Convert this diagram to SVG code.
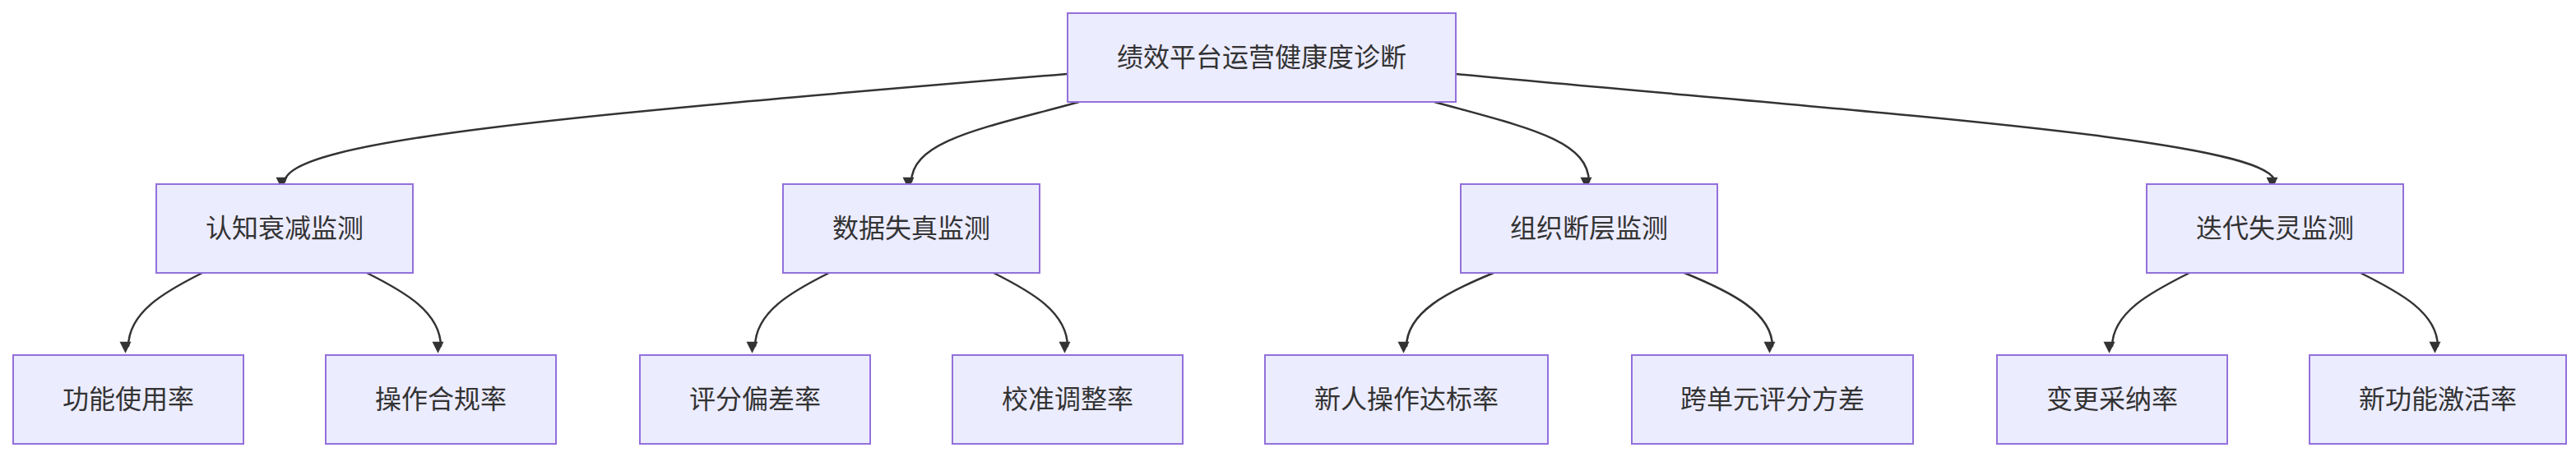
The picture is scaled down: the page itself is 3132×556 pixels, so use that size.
<svg xmlns="http://www.w3.org/2000/svg" width="3132" height="556" viewBox="0 0 3132 556">
<style>
.n rect{fill:#ECECFF;stroke:#9370DB;stroke-width:2}
.n text{font-family:"Liberation Sans","Noto Sans CJK SC",sans-serif;font-size:32px;fill:#333;text-anchor:middle;dominant-baseline:central}
.e path{fill:none;stroke:#333;stroke-width:2.5;marker-end:url(#a)}
</style>
<defs><marker id="a" viewBox="0 0 10 10" refX="9" refY="5" markerWidth="7" markerHeight="7" markerUnits="userSpaceOnUse" orient="auto" style="overflow:visible"><path d="M0,0L10,5L0,10z" fill="#333" transform="scale(2)" /></marker></defs>
<rect width="3132" height="556" fill="#fff"/>
<g class="e">
<path d="M1297,90 C700,140 346,170 346,222"/>
<path d="M1312,124 C1200,155 1108,170 1108,222"/>
<path d="M1744,124 C1856,155 1932,170 1932,222"/>
<path d="M1770,90 C2300,140 2766,170 2766,222"/>
<path d="M246,332 C200,355 156,380 156,422"/>
<path d="M446,332 C492,355 536,380 536,422"/>
<path d="M1008,332 C962,355 918,380 918,422"/>
<path d="M1208,332 C1254,355 1298,380 1298,422"/>
<path d="M1816,332 C1760,355 1710,380 1710,422"/>
<path d="M2048,332 C2104,355 2155,380 2155,422"/>
<path d="M2662,332 C2616,355 2568,380 2568,422"/>
<path d="M2870,332 C2916,355 2964,380 2964,422"/>
</g>
<g id="root" class="n"><rect x="1298" y="16" width="472" height="108"/><text x="1534" y="70">绩效平台运营健康度诊断</text></g>
<g id="a1" class="n"><rect x="190" y="224" width="312" height="108"/><text x="346" y="278">认知衰减监测</text></g>
<g id="a2" class="n"><rect x="952" y="224" width="312" height="108"/><text x="1108" y="278">数据失真监测</text></g>
<g id="a3" class="n"><rect x="1776" y="224" width="312" height="108"/><text x="1932" y="278">组织断层监测</text></g>
<g id="a4" class="n"><rect x="2610" y="224" width="312" height="108"/><text x="2766" y="278">迭代失灵监测</text></g>
<g id="b1" class="n"><rect x="16" y="432" width="280" height="108"/><text x="156" y="486">功能使用率</text></g>
<g id="b2" class="n"><rect x="396" y="432" width="280" height="108"/><text x="536" y="486">操作合规率</text></g>
<g id="b3" class="n"><rect x="778" y="432" width="280" height="108"/><text x="918" y="486">评分偏差率</text></g>
<g id="b4" class="n"><rect x="1158" y="432" width="280" height="108"/><text x="1298" y="486">校准调整率</text></g>
<g id="b5" class="n"><rect x="1538" y="432" width="344" height="108"/><text x="1710" y="486">新人操作达标率</text></g>
<g id="b6" class="n"><rect x="1984" y="432" width="342" height="108"/><text x="2155" y="486">跨单元评分方差</text></g>
<g id="b7" class="n"><rect x="2428" y="432" width="280" height="108"/><text x="2568" y="486">变更采纳率</text></g>
<g id="b8" class="n"><rect x="2808" y="432" width="312" height="108"/><text x="2964" y="486">新功能激活率</text></g>
</svg>
